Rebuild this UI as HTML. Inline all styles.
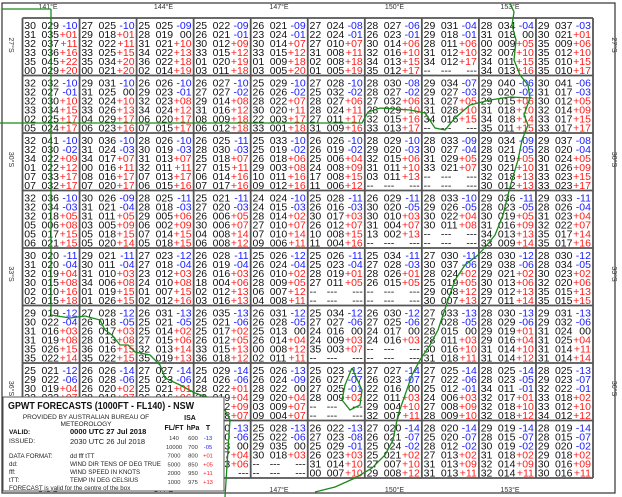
<!DOCTYPE html>
<html><head><meta charset="utf-8"><style>
html,body{margin:0;padding:0;background:#fff;}
svg{display:block;font-family:"Liberation Sans",sans-serif;}
</style></head><body>
<svg id="chart" width="622" height="497" viewBox="0 0 622 497" xmlns="http://www.w3.org/2000/svg">
<rect x="0" y="0" width="622" height="497" fill="#fff"/>
<rect x="2" y="3" width="613" height="490" fill="none" stroke="#333" stroke-width="1.2"/>
<g id="grid"></g>
<g id="cells"></g>
<g id="axes"></g>
<g id="geo" fill="none" stroke="#1a8a1a" stroke-width="1.3">
<path d="M2,9 L51,9 M0,123 L362,123 L368,112 L380,108 L410,110 L425,113 L435,128 L445,130 L455,118 L470,105 L490,100 L510,97 L532,98"/>
<path d="M51,9 L51,315"/>
<path d="M51,315 L70,318 L85,316 L100,320 L105,330 L112,335 L120,345 L128,345 L135,352 L150,355 L160,365 L165,378 L180,385 L195,393 L210,398 L225,410 L230,420 L228,450 L225,497"/>
<path d="M510,3 L514,12 L512,25 L516,40 L514,60 L520,75 L528,85 L530,98 L524,115 L528,125 L522,140 L518,160 L512,180 L508,195 L503,215 L495,235 L487,245 L478,255 L465,265 L455,280 L448,300 L443,315 L438,330 L430,345 L420,360 L412,375 L405,395 L398,415 L393,440 L385,455 L372,468 L355,478 L335,487 L315,492"/>
<path d="M352,368 L345,385 L342,400 L350,410 L360,405 L362,390 L352,368"/>
</g>
<g id="infobox">
<rect x="3" y="397" width="221" height="94" fill="#fff" stroke="#555" stroke-width="1"/>
<text x="8" y="409" font-size="10" font-weight="bold" fill="#111" textLength="186" lengthAdjust="spacingAndGlyphs">GPWT FORECASTS (1000FT - FL140) - NSW</text>
<text x="86" y="419" font-size="6.5" text-anchor="middle" fill="#222">PROVIDED BY AUSTRALIAN BUREAU OF</text>
<text x="86" y="426" font-size="6.5" text-anchor="middle" fill="#222">METEOROLOGY</text>
<text x="9" y="434" font-size="6.5" font-weight="bold" fill="#111">VALID:</text>
<text x="70" y="434" font-size="7.5" font-weight="bold" fill="#111">0000 UTC 27 Jul 2018</text>
<text x="9" y="443" font-size="6.5" fill="#222">ISSUED:</text>
<text x="70" y="444" font-size="7.5" fill="#222">2030 UTC 26 Jul 2018</text>
<text x="9" y="458" font-size="6.2" fill="#222">DATA FORMAT:</text>
<text x="70" y="458" font-size="6.2" fill="#222">dd fff tTT</text>
<text x="9" y="466" font-size="6.2" fill="#222">dd:</text>
<text x="70" y="466" font-size="6.2" fill="#222">WIND DIR TENS OF DEG TRUE</text>
<text x="9" y="474" font-size="6.2" fill="#222">fff:</text>
<text x="70" y="474" font-size="6.2" fill="#222">WIND SPEED IN KNOTS</text>
<text x="9" y="482" font-size="6.2" fill="#222">tTT:</text>
<text x="70" y="482" font-size="6.2" fill="#222">TEMP IN DEG CELSIUS</text>
<text x="9" y="490" font-size="6.2" fill="#222">FORECAST is valid for the centre of the box</text>
<text x="190" y="420" font-size="7" font-weight="bold" fill="#111" text-anchor="middle">ISA</text>
<text x="174" y="430" font-size="7" font-weight="bold" fill="#111" text-anchor="middle">FL/FT</text>
<text x="193" y="430" font-size="7" font-weight="bold" fill="#111" text-anchor="middle">hPa</text>
<text x="208" y="430" font-size="7" font-weight="bold" fill="#111" text-anchor="middle">T</text>
<g id="isa"></g>
</g>
</svg>
<script>
const lonLabels = ["141°E","144°E","147°E","150°E","153°E"];
const latLabels = ["27°S","30°S","33°S","36°S"];
const isaFl = ["140","10000","7000","5000","2000","1000"];
const isaHpa = ["600","700","800","850","950","975"];
const isaT = ["-13","-05","+01","+05","+11","+13"];
const row1 = [
["30 029 -10","31 035 +01","32 037 +11","33 036 +16","35 045 +22","00 029 +20"],
["27 025 -10","29 018 +01","32 022 +11","33 025 +15","35 034 +20","00 021 +20"],
["25 025 -09","28 019 00","31 021 +10","34 022 +13","36 022 +18","02 014 +19"],
["25 022 -09","26 021 -01","30 012 +09","33 015 +12","01 020 +19","03 011 +18"],
["26 021 -09","23 024 -01","30 014 +07","33 015 +12","01 009 +18","03 005 +20"],
["27 024 -08","22 024 -01","27 010 +07","31 008 +11","02 008 +18","01 005 +19"],
["28 027 -06","26 023 -01","30 014 +06","32 016 +10","34 013 +15","35 012 +17"],
["29 031 -04","29 018 -01","28 011 +06","31 012 +10","34 012 +17","-- --- ---"],
["28 034 -04","31 018 00","00 009 +05","32 007 +10","34 011 +15","34 013 +16"],
["29 037 -03","30 021 +01","35 009 +06","35 012 +10","35 010 +15","35 010 +17"]];
const row2 = [
["32 032 -10","32 027 -01","32 030 +10","33 034 +15","02 025 +17","05 024 +17"],
["29 031 -10","31 025 00","32 024 +10","33 026 +13","04 029 +17","06 023 +16"],
["26 026 -10","29 023 -01","32 023 +08","34 024 +12","06 020 +17","07 015 +17"],
["26 027 -10","27 027 -02","29 014 +08","31 016 +12","08 009 +18","06 012 +18"],
["25 029 -10","26 026 -02","28 022 +07","30 020 +11","22 003 +17","33 001 +18"],
["27 028 -10","25 032 -02","28 027 +06","28 024 +11","27 011 +17","31 009 +16"],
["28 030 -08","28 027 -02","27 032 +06","28 029 +10","32 015 +16","33 013 +17"],
["29 034 -07","29 027 -03","31 027 +05","31 028 +10","34 016 +15","-- --- ---"],
["29 040 -06","29 020 -02","29 015 +06","31 018 +10","34 018 +14","35 011 +15"],
["30 041 -06","31 017 -03","30 012 +05","32 014 +09","33 017 +15","33 017 +17"]];
const row3 = [
["32 041 -10","32 030 -02","34 022 +09","01 022 +12","07 033 +17","07 032 +17"],
["30 036 -10","31 024 -03","34 017 +07","00 016 +11","08 016 +17","07 020 +17"],
["28 026 -10","30 019 -03","31 013 +07","32 011 +11","07 013 +17","06 015 +16"],
["26 025 -11","28 030 -03","25 018 +07","27 015 +11","06 014 +16","07 017 +16"],
["25 033 -10","25 019 -02","26 018 +06","29 003 +08","10 011 +16","09 012 +16"],
["26 026 -10","26 019 -02","25 006 +04","24 008 +09","17 008 +15","11 006 +12"],
["28 029 -10","29 020 -03","32 015 +06","31 011 +10","03 011 +13","-- --- ---"],
["28 033 -09","30 027 -04","31 029 +05","33 021 +07","-- --- ---","-- --- ---"],
["29 034 -09","28 021 -05","29 019 +05","30 021 +10","32 018 +13","30 012 +13"],
["29 037 -08","28 020 -04","30 024 +05","31 026 +09","33 023 +15","33 023 +17"]];
const row4 = [
["32 036 -10","32 034 -03","32 018 +05","05 006 +08","05 017 +15","06 021 +15"],
["30 026 -09","31 021 -04","31 011 +05","03 005 +09","05 018 +15","05 020 +14"],
["28 025 -11","28 018 -03","29 005 +06","06 002 +09","07 014 +15","05 018 +15"],
["25 021 -11","27 020 -03","26 006 +05","30 006 +07","04 008 +14","06 008 +12"],
["24 024 -10","24 015 -03","28 014 +02","27 010 +07","07 010 +14","09 006 +11"],
["25 028 -11","26 016 -03","30 017 +03","26 012 +07","10 008 +15","11 004 +16"],
["26 029 -11","30 020 -05","30 010 +03","31 004 +07","13 002 +13","-- --- ---"],
["28 033 -10","29 026 -05","30 022 +04","30 011 +08","-- --- ---","-- --- ---"],
["29 036 -11","28 023 -05","30 019 +05","31 016 +09","34 013 +13","33 009 +14"],
["29 033 -11","28 026 -04","31 023 +04","32 022 +07","35 017 +14","35 017 +16"]];
const row5 = [
["30 020 -11","31 020 -04","32 019 +04","30 015 +08","02 010 +16","02 015 +18"],
["29 021 -11","30 011 -04","31 010 +03","34 006 +08","01 019 +15","01 026 +15"],
["27 023 -12","27 018 -04","23 012 +03","24 010 +08","01 007 +15","02 012 +16"],
["26 028 -11","26 019 -04","26 016 +03","18 004 +06","02 012 +13","03 016 +13"],
["25 026 -12","26 024 -04","26 010 +02","28 009 +05","06 007 +12","04 008 +11"],
["25 026 -11","25 023 -04","28 019 +01","27 011 +05","-- --- ---","-- --- ---"],
["25 034 -11","27 028 -03","28 026 +01","26 015 +05","-- --- ---","-- --- ---"],
["27 030 -11","30 037 -06","28 024 +02","25 019 +05","29 008 +12","30 007 +13"],
["28 030 -12","29 038 -06","29 021 +02","30 013 +06","29 012 +13","27 011 +14"],
["28 030 -12","28 034 -05","30 023 +02","32 020 +06","35 015 +13","35 015 +15"]];
const row6 = [
["29 019 -12","30 022 -04","31 016 +03","31 019 +08","35 026 +15","35 022 +14"],
["27 028 -12","26 018 -05","26 017 +03","28 013 +08","36 016 +15","35 022 +15"],
["26 031 -13","25 021 -05","25 014 +02","27 015 +06","32 013 +14","35 019 +13"],
["26 035 -13","25 021 -06","25 017 +02","26 012 +05","33 015 +13","36 018 +12"],
["26 031 -12","26 028 -05","25 013 00","26 014 +04","00 008 +12","02 011 +11"],
["25 034 -12","27 027 -06","24 016 00","24 009 +03","35 003 +07","-- --- ---"],
["26 030 -12","27 025 -06","24 017 00","24 016 +03","-- --- ---","-- --- ---"],
["27 033 -13","27 028 -05","28 015 00","28 011 +03","30 016 +10","31 018 +11"],
["28 030 -13","28 029 -06","29 019 +01","29 016 +04","31 014 +10","31 014 +12"],
["29 031 -13","29 032 -06","31 024 00","31 025 +04","31 014 +11","31 014 +14"]];
const row7 = [
["25 021 -12","29 022 -06","30 019 +04","32 023 +07","32 024 +09","33 020 +08"],
["26 026 -14","26 028 -06","26 020 +02","28 018 +07","30 020 +09","31 018 +08"],
["27 027 -14","25 023 -06","25 021 +01","26 016 +06","29 015 +09","30 016 +08"],
["25 029 -14","24 026 -06","28 022 +01","29 019 +04","28 012 +09","28 008 +07"],
["25 026 -13","26 024 -09","28 022 00","29 020 +04","03 009 +07","09 004 +07"],
["25 023 -12","26 027 -07","27 025 -01","28 009 +02","-- --- ---","-- --- ---"],
["27 027 -14","26 023 -07","22 016 00","22 011 +03","29 004 +10","32 007 +11"],
["27 025 -14","27 022 -06","25 012 -01","24 006 +03","27 008 +09","28 009 +10"],
["28 025 -14","28 023 -05","34 011 -01","32 017 +01","32 018 +10","32 018 +12"],
["28 025 -13","29 023 -07","32 022 -01","33 018 +02","33 012 +10","34 012 +12"]];
const row8 = [
["26 022 -13","27 021 -06","28 018 00","30 016 +04","32 014 +07","33 012 +08"],
["26 024 -13","27 022 -06","28 020 00","29 017 +04","31 015 +07","32 014 +08"],
["25 025 -13","26 023 -06","27 021 00","28 018 +04","30 014 +06","31 013 +07"],
["25 030 -13","26 030 -06","28 023 00","28 017 +04","28 013 +06","-- --- ---"],
["25 028 -13","25 022 -06","29 035 00","30 018 +03","-- --- ---","-- --- ---"],
["26 022 -13","27 023 -08","25 029 -01","26 023 +03","31 014 +10","00 007 +10"],
["27 020 -14","26 021 -07","25 024 -02","25 021 +02","27 007 +10","29 008 +12"],
["28 020 -14","25 020 -07","28 012 -02","27 013 +02","31 013 +09","31 013 +11"],
["29 019 -14","28 015 -07","30 019 -02","31 018 +02","32 014 +09","32 014 +11"],
["28 019 -14","28 015 -07","29 020 -02","29 018 +02","30 016 +09","30 016 +11"]];
const rows = [row1,row2,row3,row4,row5,row6,row7,row8];

const NS="http://www.w3.org/2000/svg";
const gx0=22.5, cw=57.05, gy0=18, rh=57.5;
function colX(i){return gx0+i*cw;}
function rowY(j){return gy0+j*rh;}
function lonX(k){return 48+k*115.5;}
function latY(k){return 45+k*114.5;}
function mk(tag,attrs,parent){const e=document.createElementNS(NS,tag);for(const k in attrs)e.setAttribute(k,attrs[k]);parent.appendChild(e);return e;}

const grid=document.getElementById('grid');
for(let i=0;i<=10;i++){
  const l=mk('line',{x1:colX(i),y1:rowY(0),x2:colX(i),y2:rowY(8),stroke:'#555','stroke-width':1.8},grid);
  
  
}
for(let j=0;j<=8;j++){
  const l=mk('line',{x1:colX(0),y1:rowY(j),x2:colX(10),y2:rowY(j),stroke:'#555','stroke-width':1.8},grid);
  
  
}
const cells=document.getElementById('cells');
rows.forEach((r,j)=>{r.forEach((lines,i)=>{
  const g=mk('g',{},cells);
  
  
  lines.forEach((s,k)=>{
    const p=s.split(' ');
    const y=rowY(j)+11+k*8.95;
    const x=colX(i);
    const a=mk('text',{x:x+1.8,y:y,'font-size':10.5,fill:'#111'},g);a.textContent=p[0];
    
    
    const b=mk('text',{x:x+19,y:y,'font-size':10.5,fill:'#111'},g);b.textContent=p[1];
    
    
    let col='#111'; if(p[2][0]=='-'&&p[2]!='---')col='#1a1aff'; else if(p[2][0]=='+')col='#ff1a1a';
    const c=mk('text',{x:x+55,y:y,'font-size':10.5,fill:col,'text-anchor':'end'},g);c.textContent=p[2];
    
    
  });
});});
const axes=document.getElementById('axes');
lonLabels.forEach((t,k)=>{
  const a=mk('text',{x:lonX(k),y:9,'font-size':7,fill:'#333','text-anchor':'middle'},axes);a.textContent=t;
  
  
  const b=mk('text',{x:lonX(k),y:492,'font-size':7,fill:'#333','text-anchor':'middle'},axes);b.textContent=t;
  
  
});
latLabels.forEach((t,k)=>{
  const y=latY(k);
  const a=mk('text',{x:0,y:0,'font-size':7,fill:'#333','text-anchor':'middle',transform:`translate(9,${y}) rotate(90)`},axes);a.textContent=t;
  
  
  const b=mk('text',{x:0,y:0,'font-size':7,fill:'#333','text-anchor':'middle',transform:`translate(612,${y}) rotate(90)`},axes);b.textContent=t;
  
  
});
const isa=document.getElementById('isa');
isaFl.forEach((f,k)=>{
  const y=440+k*8.8;
  const a=mk('text',{x:174,y:y,'font-size':5.8,fill:'#333','text-anchor':'middle'},isa);a.textContent=f;
  
  
  const b=mk('text',{x:193,y:y,'font-size':5.8,fill:'#333','text-anchor':'middle'},isa);b.textContent=isaHpa[k];
  
  
  const c=mk('text',{x:208,y:y,'font-size':5.8,fill:isaT[k][0]=='-'?'#1a1aff':'#ff1a1a','text-anchor':'middle'},isa);c.textContent=isaT[k];
  
  
});
const svg=document.getElementById('chart');
svg.insertBefore(document.getElementById('geo'),document.getElementById('infobox'));
</script>
</body></html>
